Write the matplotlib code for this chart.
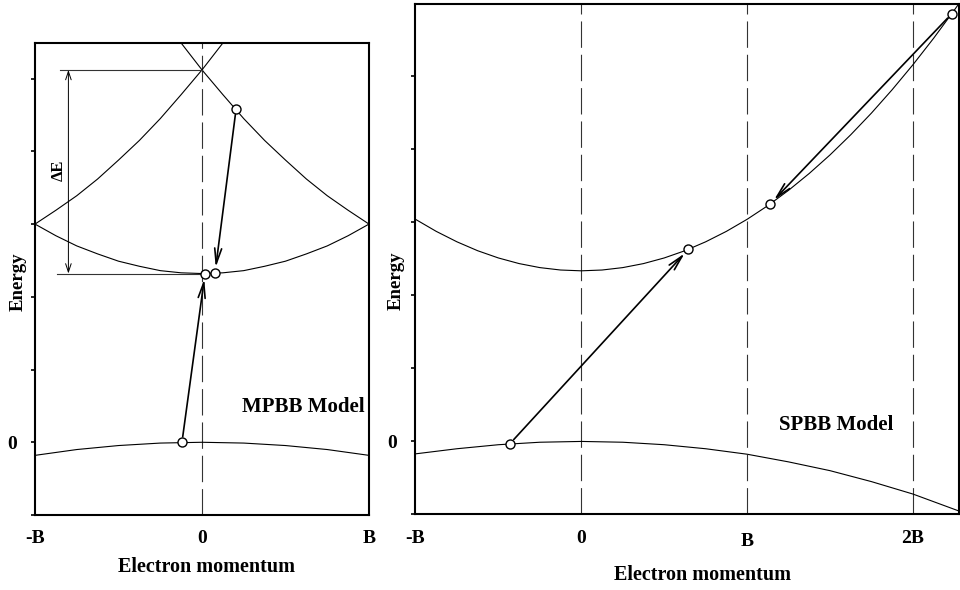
import matplotlib

matplotlib.use("Agg")
import matplotlib.pyplot as plt
from matplotlib.transforms import ScaledTranslation

plt.rcParams["font.family"] = ["Liberation Serif", "DejaVu Serif"]
plt.rcParams["font.weight"] = "bold"
plt.rcParams["axes.labelweight"] = "bold"
plt.rcParams["lines.scale_dashes"] = False

# ---- MPBB model (left panel): momentum in units of B, energy in tick units ----
mp_k_valence = [-1.0, -0.75, -0.5, -0.25, 0.0, 0.25, 0.5, 0.75, 1.0]
mp_e_valence = [-0.18, -0.10, -0.045, -0.011, 0.0, -0.011, -0.045, -0.10, -0.18]

mp_k_lower = [-1.0, -0.875, -0.75, -0.625, -0.5, -0.375, -0.25, -0.125, 0.0,
              0.125, 0.25, 0.375, 0.5, 0.625, 0.75, 0.875, 1.0]
mp_e_lower = [3.00, 2.84, 2.70, 2.59, 2.49, 2.42, 2.36, 2.33, 2.32,
              2.33, 2.36, 2.42, 2.49, 2.59, 2.70, 2.84, 3.00]

# upper (folded) band, branch rising from -B; the other branch is its mirror
mp_k_upper = [-1.0, -0.875, -0.75, -0.625, -0.5, -0.375, -0.25, -0.125, 0.0, 0.125, 0.16]
mp_e_upper = [3.00, 3.19, 3.39, 3.62, 3.88, 4.15, 4.45, 4.78, 5.12, 5.49, 5.60]

mp_state_k = [-0.12, 0.018, 0.078, 0.204]
mp_state_e = [0.0, 2.32, 2.33, 4.58]

mp_gap_top = 5.12
mp_gap_bottom = 2.32

mp_xticks = [-1, 0, 1]
mp_xlabels = ["-B", "0", "B"]

# ---- SPBB model (right panel) ----
sp_k_valence = [-1.0, -0.75, -0.5, -0.25, 0.0, 0.25, 0.5, 0.75, 1.0,
                1.25, 1.5, 1.75, 2.0, 2.275]
sp_e_valence = [-0.17, -0.10, -0.045, -0.011, 0.0, -0.011, -0.045, -0.10, -0.175,
                -0.28, -0.40, -0.55, -0.72, -0.95]

sp_k_cond = [-1.0, -0.875, -0.75, -0.625, -0.5, -0.375, -0.25, -0.125, 0.0,
             0.125, 0.25, 0.375, 0.5, 0.625, 0.75, 0.875, 1.0,
             1.125, 1.25, 1.375, 1.5, 1.625, 1.75, 1.875, 2.0, 2.125, 2.25, 2.30]
sp_e_cond = [3.04, 2.875, 2.732, 2.61, 2.511, 2.434, 2.379, 2.346, 2.335,
             2.346, 2.379, 2.434, 2.511, 2.61, 2.732, 2.875, 3.04,
             3.227, 3.437, 3.668, 3.921, 4.197, 4.494, 4.814, 5.155, 5.518, 5.904, 6.064]

sp_state_k = [-0.43, 0.646, 1.139, 2.233]
sp_state_e = [-0.03, 2.63, 3.25, 5.85]

sp_xticks = [-1, 0, 1, 2]
sp_xlabels = ["-B", "0", "B", "2B"]

yticks = [-1, 0, 1, 2, 3, 4, 5]

fig = plt.figure(figsize=(9.6, 5.9), dpi=100)
ax1 = fig.add_axes([0.03646, 0.12712, 0.34792, 0.8])
ax2 = fig.add_axes([0.43281, 0.12797, 0.56563, 0.86441])

band_kw = dict(color="black", lw=0.8)
dash_kw = dict(color="#333333", lw=0.8, dashes=(19, 5))
state_kw = dict(ls="none", marker="o", ms=6.5, mfc="white", mec="black", mew=1.0, zorder=5)
arrow_kw = dict(arrowstyle="->,head_length=1.1,head_width=0.25", color="black",
                lw=1.2, shrinkA=4, shrinkB=4)


def transition(ax, k, e, i, j):
    ax.annotate("", xy=(k[j], e[j]), xytext=(k[i], e[i]), arrowprops=arrow_kw, zorder=4)


def style_axes(ax, xticks, xlabels, xlim, ylim, xlabel_pos, ylabel_pos):
    ax.set_xlim(*xlim)
    ax.set_ylim(*ylim)
    for spine in ax.spines.values():
        spine.set_linewidth(1.5)
    ax.set_yticks(yticks)
    ax.set_yticklabels(["0" if t == 0 else "" for t in yticks])
    ax.tick_params(axis="y", direction="out", length=3, width=1.2, labelsize=14, pad=10)
    ax.set_xticks(xticks)
    ax.set_xticklabels(xlabels)
    ax.tick_params(axis="x", length=0, labelsize=14, pad=11)
    ax.set_xlabel("Electron momentum", fontsize=14.5)
    ax.set_ylabel("Energy", fontsize=13.5)
    ax.xaxis.set_label_coords(*xlabel_pos)
    ax.yaxis.set_label_coords(*ylabel_pos)
    ax.xaxis.label.set_va("center")
    ax.yaxis.label.set_va("center")


# left panel
ax1.axvline(0, **dash_kw)
ax1.plot(mp_k_valence, mp_e_valence, **band_kw)
ax1.plot(mp_k_lower, mp_e_lower, **band_kw)
ax1.plot(mp_k_upper, mp_e_upper, **band_kw)
ax1.plot([-k for k in mp_k_upper], mp_e_upper, **band_kw)

ax1.plot([-0.85, 0], [mp_gap_top, mp_gap_top], color="#333333", lw=0.8)
ax1.plot([-0.87, 0], [mp_gap_bottom, mp_gap_bottom], color="#333333", lw=0.8)
ax1.annotate("", xy=(-0.80, mp_gap_bottom), xytext=(-0.80, mp_gap_top),
             arrowprops=dict(arrowstyle="<->,head_length=0.6,head_width=0.2",
                             color="black", lw=0.7, shrinkA=0, shrinkB=0))
ax1.text(-0.86, 3.74, "ΔE", rotation=90, ha="center", va="center", fontsize=12)

transition(ax1, mp_state_k, mp_state_e, 0, 1)
transition(ax1, mp_state_k, mp_state_e, 3, 2)
ax1.plot(mp_state_k, mp_state_e, **state_kw)
ax1.text(0.24, 0.48, "MPBB Model", ha="left", va="center", fontsize=15)

style_axes(ax1, mp_xticks, mp_xlabels, (-1, 1), (-1, 5.49),
           (0.512, -0.110), (-0.051, 0.494))

# right panel
for k in [0, 1, 2]:
    ax2.axvline(k, **dash_kw)
ax2.plot(sp_k_valence, sp_e_valence, **band_kw)
ax2.plot(sp_k_cond, sp_e_cond, **band_kw)

transition(ax2, sp_state_k, sp_state_e, 0, 1)
transition(ax2, sp_state_k, sp_state_e, 3, 2)
ax2.plot(sp_state_k, sp_state_e, **state_kw)
ax2.text(1.19, 0.23, "SPBB Model", ha="left", va="center", fontsize=15)

style_axes(ax2, sp_xticks, sp_xlabels, (-1, 2.275), (-1, 5.98),
           (0.529, -0.1186), (-0.036, 0.458))
b_label = ax2.get_xticklabels()[2]
b_label.set_transform(b_label.get_transform() + ScaledTranslation(0, -2.5 / 72, fig.dpi_scale_trans))

fig.savefig("out.png", dpi=100)
